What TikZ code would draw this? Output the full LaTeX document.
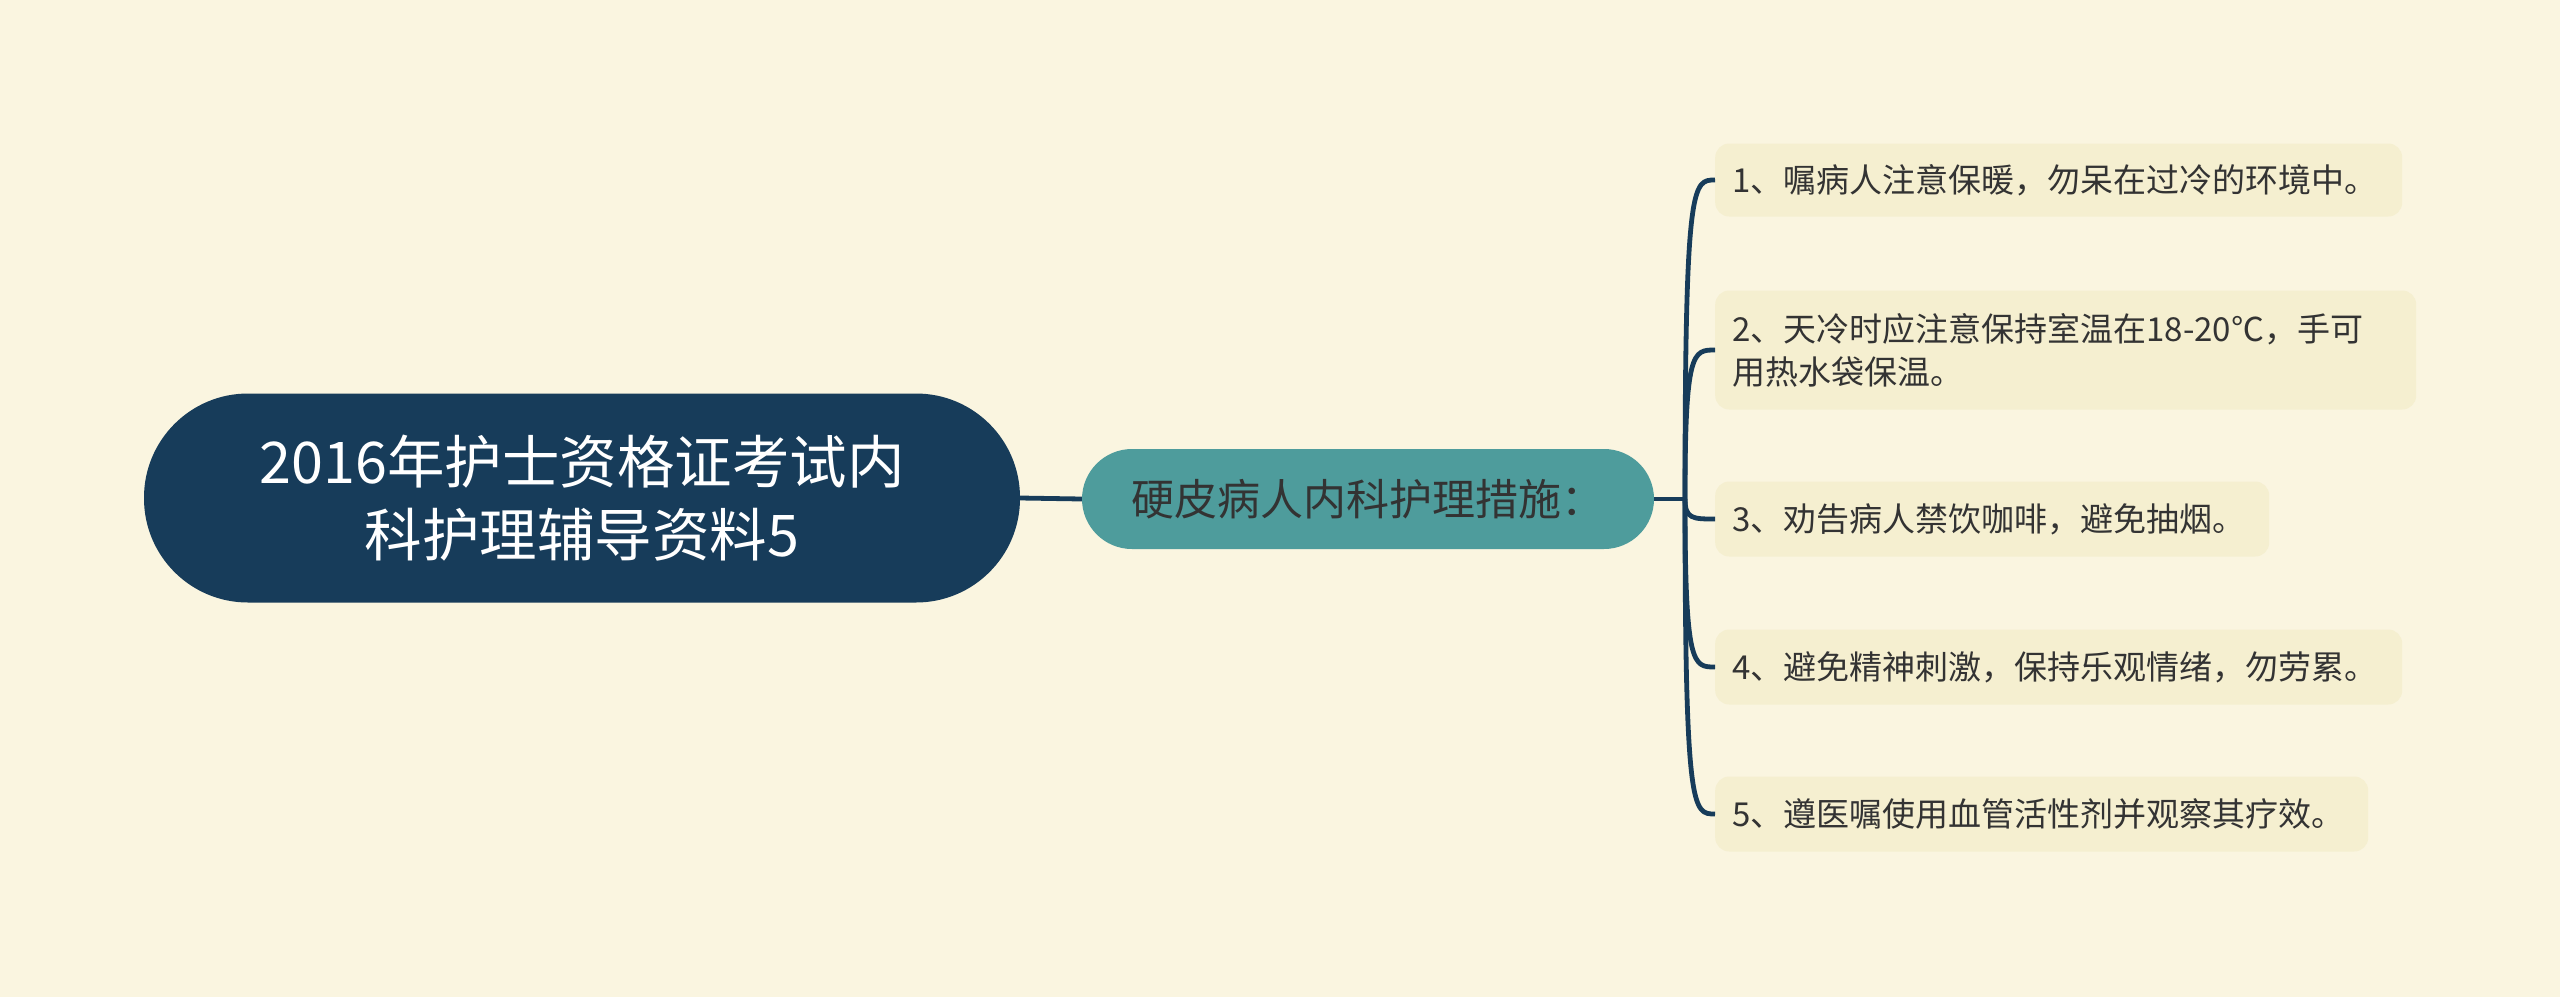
\documentclass[tikz,border=0pt]{standalone}
\usepackage{fontspec}
\setmainfont{Noto Sans CJK SC}
\usetikzlibrary{calc}
\definecolor{bgc}{HTML}{FAF5E0}
\definecolor{rootc}{HTML}{173C5A}
\definecolor{midc}{HTML}{4E9C9C}
\definecolor{leafc}{HTML}{F5EFD0}
\definecolor{txt}{HTML}{333333}
\definecolor{linec}{HTML}{173C5A}
\begin{document}
\begin{tikzpicture}[x=1pt,y=-1pt,
  rootbox/.style={fill=rootc, rounded corners=104pt, minimum width=876pt, minimum height=209pt, text=white, font=\fontsize{57.5}{73}\selectfont, align=center, inner sep=0pt},
  midbox/.style={fill=midc, rounded corners=50pt, minimum width=572pt, minimum height=100pt, text=txt, font=\fontsize{43}{50}\selectfont, inner sep=0pt},
  leafbox/.style={fill=leafc, rounded corners=14pt, anchor=west, text=txt, font=\fontsize{33}{43}\selectfont, align=left, inner xsep=17pt, inner ysep=0pt},
  conn/.style={draw=linec, line width=4.8pt}]
\fill[bgc] (0,0) rectangle (2560,997);
\useasboundingbox (0,0) rectangle (2560,997);
\node[rootbox] (root) at (582,498) {2016年护士资格证考试内\\科护理辅导资料5};
\node[midbox] (mid) at (1368,499) {硬皮病人内科护理措施：};
\node[leafbox, minimum height=73pt, text width=653pt] (l1) at (1715,180) {1、嘱病人注意保暖，勿呆在过冷的环境中。};
\node[leafbox, minimum height=119pt, text width=667pt] (l2) at (1715,350) {2、天冷时应注意保持室温在18-20℃，手可\\用热水袋保温。};
\node[leafbox, minimum height=75pt, text width=520pt] (l3) at (1715,519) {3、劝告病人禁饮咖啡，避免抽烟。};
\node[leafbox, minimum height=75pt, text width=653pt] (l4) at (1715,667) {4、避免精神刺激，保持乐观情绪，勿劳累。};
\node[leafbox, minimum height=75pt, text width=619pt] (l5) at (1715,814) {5、遵医嘱使用血管活性剂并观察其疗效。};
\coordinate (j) at (1685,499);
\draw[conn] (root.east) -- (mid.west);
\draw[conn] (mid.east) -- (j);
\foreach \n in {l1,l2,l3,l4,l5}
  \draw[conn] (j) .. controls ($(j|-\n.west)$) and ($(j|-\n.west)+(8,0)$) .. (\n.west);
\end{tikzpicture}
\end{document}
